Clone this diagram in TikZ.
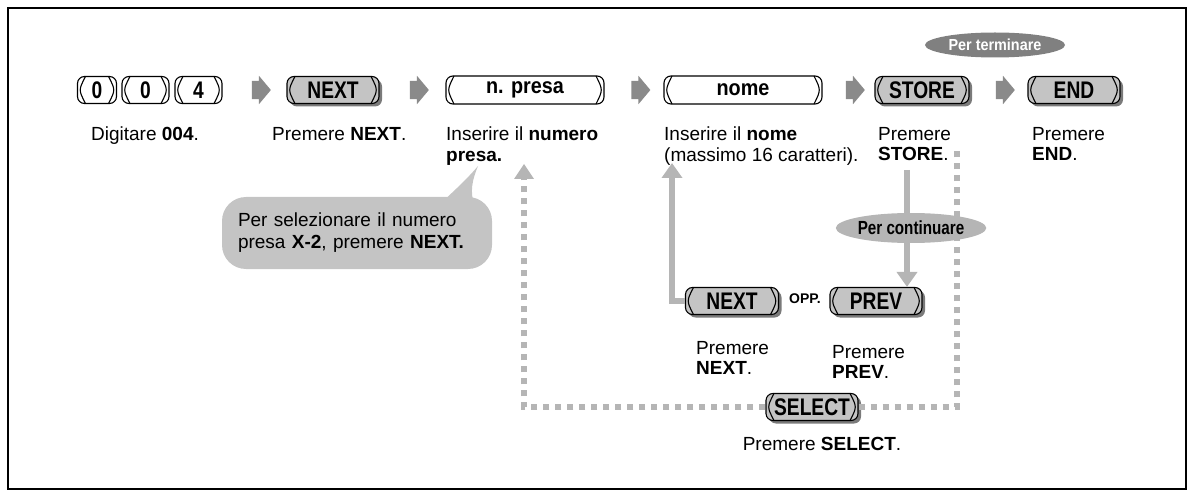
\documentclass[tikz,border=0pt]{standalone}
\usepackage{fontspec}
\setmainfont{Liberation Sans}
\newfontfamily\keyfont[FakeStretch=0.8]{Liberation Sans Bold}
\newfontfamily\boxfont[FakeStretch=0.9]{Liberation Sans Bold}
\usetikzlibrary{shapes.geometric,shapes.arrows,shadows,arrows.meta}
\definecolor{keygray}{HTML}{C4C4C4}
\definecolor{shadowgray}{HTML}{7A7A7A}
\definecolor{linegray}{HTML}{B5B5B5}
\definecolor{flowgray}{HTML}{8A8A8A}
\definecolor{darkoval}{HTML}{808080}
\begin{document}
\begin{tikzpicture}[x=1pt,y=-1pt,
  keybase/.style={draw, line width=1.1pt, rounded corners=7pt, minimum height=27pt, inner sep=0pt,
    path picture={
      \draw[line width=1.1pt] ([xshift=8pt]path picture bounding box.north west) .. controls ([xshift=1pt]path picture bounding box.west) .. ([xshift=8pt]path picture bounding box.south west);
      \draw[line width=1.1pt] ([xshift=-8pt]path picture bounding box.north east) .. controls ([xshift=-1pt]path picture bounding box.east) .. ([xshift=-8pt]path picture bounding box.south east);
    }},
  graykey/.style={keybase, fill=keygray, font=\keyfont\fontsize{24}{24}\selectfont,
    drop shadow={shadow xshift=3pt, shadow yshift=-3pt, fill=shadowgray, opacity=1}},
  whitekey/.style={keybase, fill=white, font=\keyfont\fontsize{24}{24}\selectfont},
  textbox/.style={keybase, fill=white, minimum height=28pt, font=\boxfont\fontsize{22}{22}\selectfont},
  flow/.style={single arrow, fill=flowgray, draw=none, minimum height=19pt, inner xsep=0pt, inner ysep=9pt,
    single arrow head extend=5pt, single arrow tip angle=100, anchor=center, xshift=3pt},
  lbl/.style={font=\fontsize{19}{20.5}\selectfont, align=left, inner sep=0pt},
  solidarrow/.style={draw=linegray, line width=6pt, -{Triangle[width=20pt,length=15pt]}},
  dashline/.style={draw=linegray, line width=6pt, dash pattern=on 6pt off 6pt},
]
\useasboundingbox (0,0) rectangle (1194,497);
\draw[line width=1.2pt] (8,8) rectangle (1186,489);

% top row
\node[whitekey, minimum width=39pt] (d0a) at (97,90) {0};
\node[whitekey, minimum width=47pt] (d0b) at (145.5,90) {0};
\node[whitekey, minimum width=47pt] (d4) at (198.5,90) {4};
\node[graykey, minimum width=92pt] (nexta) at (333,90) {NEXT};
\node[textbox, minimum width=158pt] (presa) at (525,90) {n. presa};
\node[textbox, minimum width=158pt] (nome) at (743,90) {nome};
\node[graykey, minimum width=94pt] (store) at (922,90) {STORE};
\node[graykey, minimum width=92pt] (endk) at (1074,90) {END};
\node[ellipse, fill=darkoval, minimum width=140pt, minimum height=25pt, inner sep=0pt,
  text=white, font=\boxfont\fontsize{16}{16}\selectfont] (term) at (995,45) {Per terminare};

\path (d4.east) -- (nexta.west) node[flow, midway] (f1) {};
\path (nexta.east) -- (presa.west) node[flow, midway] (f2) {};
\path (presa.east) -- (nome.west) node[flow, midway] (f3) {};
\path (nome.east) -- (store.west) node[flow, midway] (f4) {};
\path (store.east) -- (endk.west) node[flow, midway] (f5) {};

% labels
\node[lbl, anchor=north] (l1) at (145,127) {Digitare \textbf{004}.};
\node[lbl, anchor=north west] (l2) at (272,127) {Premere \textbf{NEXT}.};
\node[lbl, anchor=north west] (l3) at (446,127) {Inserire il \textbf{numero}\\\textbf{presa.}};
\node[lbl, anchor=north west] (l4) at (664,127) {Inserire il \textbf{nome}\\(massimo 16 caratteri).};
\node[lbl, anchor=north west] (l5) at (878,127) {Premere\\\textbf{STORE}.};
\node[lbl, anchor=north west] (l6) at (1032,127) {Premere\\\textbf{END}.};

% callout
\fill[keygray] (440,204) .. controls (455,190) and (468,178) .. (478,166) .. controls (472,180) and (470,192) .. (474,204) -- cycle;
\node[fill=keygray, rounded corners=24pt, minimum width=270pt, minimum height=72pt, inner sep=0pt,
  text width=238pt, align=left, font=\fontsize{19}{22}\selectfont] (callout) at (357,233)
  {Per selezionare il numero\\presa \textbf{X-2}, premere \textbf{NEXT.}};

% dashed loop
\coordinate (lefttip) at (524,164);
\coordinate (righttop) at (957,150);
\node[graykey, minimum width=92pt] (select) at (812,407) {SELECT};
\draw[dashline] (select.west) -| ([yshift=-14pt]lefttip);
\fill[linegray] (lefttip) -- ++(-10,15) -- ++(20,0) -- cycle;
\draw[dashline] (select.east) -| (righttop);
\node[lbl, anchor=north] (l9) at (822,437) {Premere \textbf{SELECT}.};

% lower row
\node[graykey, minimum width=93pt] (nextb) at (732,301) {NEXT};
\node[inner sep=0pt, font=\bfseries\fontsize{14}{14}\selectfont] (opp) at (805,299) {OPP.};
\node[graykey, minimum width=92pt] (prev) at (876,301) {PREV};
\node[lbl, anchor=north west] (l7) at (696,341) {Premere\\\textbf{NEXT}.};
\node[lbl, anchor=north west] (l8) at (832,345) {Premere\\\textbf{PREV}.};

\coordinate (uptip) at (672,163);
\draw[solidarrow] (nextb.west) -| (uptip);
\coordinate (storedown) at (907,170);
\draw[solidarrow] (storedown) -- (storedown |- prev.north);
\node[ellipse, fill=linegray, minimum width=136pt, minimum height=30pt, inner sep=0pt,
  font=\keyfont\fontsize{19}{19}\selectfont] (cont) at (911,228) {Per continuare};
\end{tikzpicture}
\end{document}
